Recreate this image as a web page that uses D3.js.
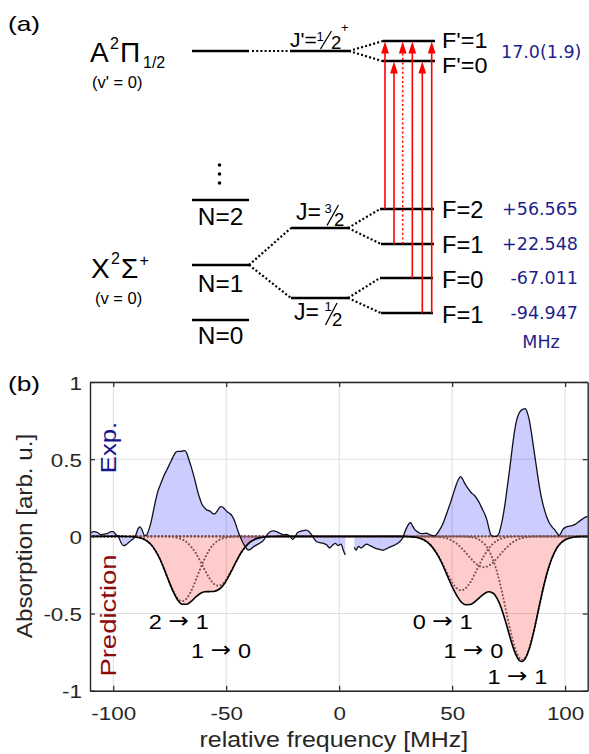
<!DOCTYPE html>
<html><head><meta charset="utf-8">
<script src="https://cdn.jsdelivr.net/npm/d3@7"></script>
<style>html,body{margin:0;padding:0;background:#fff;}svg{display:block;}</style>
</head><body>
<script>
// ================= DATA =================
// panel (b) axes
const xTicks = [-100, -50, 0, 50, 100];
const yTicks = [-1, -0.5, 0, 0.5, 1];
const xTickLabels = ["-100", "-50", "0", "50", "100"];
const yTickLabels = ["-1", "-0.5", "0", "0.5", "1"];

// experimental absorption [freq MHz, value]; null = gap in data
const expPoints = [[-110.3,0.02],[-108.5,0.03],[-107,0.025],[-105.5,0.01],[-104,0.015],[-102.5,0.02],[-101,0.03],[-100,0.03],[-98.8,0.01],[-97.8,0],[-96.6,-0.04],[-95.5,-0.06],[-94.4,-0.055],[-93.2,-0.04],[-92,-0.025],[-91,-0.015],[-90,0.01],[-89,0.05],[-88.2,0.062],[-87.2,0.04],[-86.2,0.005],[-85.2,0.01],[-84.2,0.045],[-83.3,0.09],[-82.3,0.16],[-81.3,0.23],[-80.3,0.29],[-79,0.34],[-77.7,0.39],[-76.3,0.43],[-75,0.47],[-73.7,0.51],[-72.6,0.54],[-71.5,0.55],[-70.3,0.55],[-69.3,0.553],[-68.3,0.556],[-67.5,0.54],[-66.6,0.5],[-65.7,0.46],[-64.7,0.41],[-63.8,0.36],[-62.8,0.3],[-61.8,0.25],[-60.8,0.21],[-59.6,0.185],[-58.5,0.17],[-57.3,0.165],[-56.2,0.15],[-55.2,0.145],[-54.2,0.16],[-53.3,0.18],[-52.5,0.193],[-51.6,0.19],[-50.6,0.175],[-49.6,0.16],[-48.6,0.15],[-47.5,0.135],[-46.6,0.11],[-45.6,0.07],[-44.7,0.03],[-43.9,0],[-43,-0.03],[-42.1,-0.055],[-41.2,-0.075],[-40.3,-0.088],[-39.3,-0.085],[-38.3,-0.072],[-37.1,-0.06],[-35.9,-0.05],[-34.7,-0.04],[-33.6,-0.028],[-32.6,-0.005],[-31.5,0.018],[-30.5,0.03],[-29.2,0.035],[-27.7,0.03],[-26.2,0.02],[-24.8,0.01],[-23.3,0.012],[-21.8,0],[-20.6,-0.02],[-19.6,-0.005],[-18.4,0.025],[-16.5,0.035],[-14.6,0.04],[-13.3,0.03],[-12.2,0.01],[-11.1,-0.015],[-10,-0.035],[-8.6,-0.04],[-7.1,-0.045],[-5.6,-0.055],[-4.2,-0.075],[-3.1,-0.06],[-1.8,-0.045],[-0.5,-0.06],[0.8,-0.05],[1.8,-0.09],[2.7,-0.12],[4.7,null],[6.7,-0.07],[7.5,-0.09],[8.5,-0.065],[9.8,-0.075],[11,-0.06],[12.2,-0.05],[13.6,-0.06],[15,-0.07],[16.5,-0.08],[18,-0.085],[19.5,-0.09],[21,-0.08],[22.4,-0.07],[24,-0.06],[25.4,-0.05],[26.8,-0.035],[28.1,-0.01],[29.1,0.03],[30,0.06],[30.8,0.08],[31.6,0.088],[32.4,0.07],[33.4,0.045],[34.6,0.03],[35.8,0.02],[37.2,0.018],[38.6,0.02],[40,0.012],[41.3,0.005],[42.3,0.003],[43.5,0.02],[44.6,0.045],[45.7,0.075],[46.9,0.12],[48.1,0.17],[49.4,0.225],[50.6,0.28],[51.7,0.33],[52.8,0.37],[53.7,0.387],[54.6,0.372],[55.5,0.345],[56.6,0.32],[57.8,0.295],[59,0.275],[60.2,0.26],[61.3,0.235],[62.3,0.21],[63.4,0.175],[64.4,0.145],[65.4,0.105],[66.3,0.05],[67.1,0.01],[68.2,0],[69.6,0],[70.6,0.015],[71.5,0.06],[72.5,0.13],[73.5,0.22],[74.5,0.33],[75.5,0.44],[76.5,0.56],[77.5,0.67],[78.5,0.75],[79.5,0.795],[80.5,0.815],[81.5,0.825],[82.4,0.827],[83.3,0.8],[84.2,0.75],[85.1,0.67],[86,0.58],[87,0.48],[88,0.38],[89,0.29],[90,0.22],[91,0.165],[92,0.12],[93.1,0.085],[94.3,0.06],[95.5,0.04],[96.5,0.02],[97.3,0.005],[98.1,0.02],[99,0.045],[100.2,0.058],[101.5,0.065],[103,0.07],[104.5,0.078],[106,0.095],[107.5,0.11],[109,0.125],[110,0.13]];

// predicted absorption (total)
const predPoints = [[-110.3,0],[-95.5,0],[-93.5,-0.001],[-91.5,-0.002],[-89.5,-0.006],[-87.5,-0.013],[-85.5,-0.026],[-83.5,-0.05],[-81.5,-0.089],[-79.5,-0.142],[-77.5,-0.211],[-75.5,-0.287],[-73.5,-0.357],[-71.5,-0.412],[-69.5,-0.44],[-67.5,-0.44],[-65.5,-0.421],[-63.5,-0.393],[-61.5,-0.37],[-59.5,-0.359],[-57.5,-0.358],[-55.5,-0.357],[-53.5,-0.346],[-51.5,-0.32],[-49.5,-0.275],[-47.5,-0.219],[-45.5,-0.161],[-43.5,-0.108],[-41.5,-0.068],[-39.5,-0.038],[-37.5,-0.02],[-35.5,-0.01],[-33.5,-0.004],[-31.5,-0.002],[-29.5,-0.001],[-27.5,0],[28,0],[30,-0.001],[32,-0.003],[34,-0.006],[36,-0.014],[38,-0.027],[40,-0.05],[42,-0.085],[44,-0.132],[46,-0.192],[48,-0.26],[50,-0.326],[52,-0.383],[54,-0.425],[56,-0.443],[58,-0.442],[60,-0.424],[62,-0.398],[64,-0.374],[66,-0.359],[68,-0.367],[70,-0.405],[72,-0.475],[74,-0.57],[76,-0.673],[78,-0.76],[80,-0.807],[81,-0.811],[82,-0.8],[84,-0.735],[86,-0.625],[88,-0.491],[90,-0.356],[92,-0.238],[94,-0.148],[96,-0.084],[98,-0.045],[100,-0.022],[102,-0.01],[104,-0.004],[106,-0.0015],[108,-0.0006],[110,0]];

// individual predicted transitions (dotted)
const comp21L = [[-110.3,0],[-93.5,-0.001],[-91.5,-0.002],[-89.5,-0.006],[-87.5,-0.013],[-85.5,-0.026],[-83.5,-0.05],[-81.5,-0.089],[-79.5,-0.142],[-77.5,-0.21],[-75.5,-0.285],[-73.5,-0.353],[-71.5,-0.402],[-69.5,-0.42],[-67.5,-0.402],[-65.5,-0.353],[-63.5,-0.285],[-61.5,-0.21],[-59.5,-0.142],[-57.5,-0.089],[-55.5,-0.05],[-53.5,-0.026],[-51.5,-0.013],[-49.5,-0.006],[-47.5,-0.002],[-45.5,-0.001],[110,0]];
const comp10L = [[-110.3,0],[-77.5,-0.001],[-75.5,-0.002],[-73.5,-0.004],[-71.5,-0.01],[-69.5,-0.02],[-67.5,-0.038],[-65.5,-0.068],[-63.5,-0.108],[-61.5,-0.16],[-59.5,-0.217],[-57.5,-0.269],[-55.5,-0.307],[-53.5,-0.32],[-51.5,-0.307],[-49.5,-0.269],[-47.5,-0.217],[-45.5,-0.16],[-43.5,-0.108],[-41.5,-0.068],[-39.5,-0.038],[-37.5,-0.02],[-35.5,-0.01],[-33.5,-0.004],[-31.5,-0.002],[-29.5,-0.001],[110,0]];
const comp01R = [[-110.3,0],[30,-0.001],[32,-0.003],[34,-0.006],[36,-0.014],[38,-0.027],[40,-0.049],[42,-0.083],[44,-0.129],[46,-0.184],[48,-0.244],[50,-0.298],[52,-0.336],[54,-0.35],[56,-0.336],[58,-0.298],[60,-0.244],[62,-0.184],[64,-0.129],[66,-0.083],[68,-0.049],[70,-0.027],[72,-0.014],[74,-0.006],[76,-0.003],[78,-0.001],[110,0]];
const comp10R = [[-110.3,0],[40,-0.001],[42,-0.002],[44,-0.004],[46,-0.008],[48,-0.015],[50,-0.028],[52,-0.047],[54,-0.074],[56,-0.105],[58,-0.14],[60,-0.17],[62,-0.192],[64,-0.2],[66,-0.192],[68,-0.17],[70,-0.14],[72,-0.105],[74,-0.074],[76,-0.047],[78,-0.028],[80,-0.015],[82,-0.008],[84,-0.004],[86,-0.002],[88,-0.001],[110,0]];
const comp11R = [[-110.3,0],[54,-0.001],[56,-0.002],[58,-0.004],[60,-0.01],[62,-0.022],[64,-0.045],[66,-0.084],[68,-0.148],[70,-0.238],[72,-0.356],[74,-0.49],[76,-0.623],[78,-0.731],[80,-0.792],[81,-0.8],[82,-0.792],[84,-0.731],[86,-0.623],[88,-0.49],[90,-0.356],[92,-0.238],[94,-0.148],[96,-0.084],[98,-0.045],[100,-0.022],[102,-0.01],[104,-0.004],[106,-0.002],[108,-0.001],[110,0]];
const components = [comp21L, comp10L, comp01R, comp10R, comp11R];

// transition annotations: [lower F, upper F'], position (freq, value)
const annoFrom = ["2", "1", "0", "1", "1"];
const annoTo   = ["1", "0", "1", "0", "1"];
const annoFreq = [-71, -52.3, 45.8, 59.4, 78.9];
const annoVal  = [-0.55, -0.737, -0.55, -0.737, -0.905];

// panel (a) level-diagram content
const groundFNames = ["F=2", "F=1", "F=0", "F=1"];
const groundHF = ["+56.565", "+22.548", "-67.011", "-94.947"];
const excitedFNames = ["F'=1", "F'=0"];
const excitedHF = "17.0(1.9)";
const rotLevels = ["N=2", "N=1", "N=0"];
// transitions: [lower level index in groundFNames, upper index in excitedFNames, dotted?]
const transitions = [[0,0,false],[1,1,false],[1,0,true],[2,0,false],[3,1,false],[3,0,false]];

// ================= DRAWING =================
const W = 589, H = 754;
const FF = "'Liberation Sans', Arial, Helvetica, sans-serif";
const FV = "'DejaVu Sans', Verdana, sans-serif";
const svg = d3.select("body").append("svg").attr("width", W).attr("height", H);
svg.append("rect").attr("width", W).attr("height", H).attr("fill", "#fff");

function stxt(g, str, x, y, o = {}) {
  let tr = `translate(${x},${y})`;
  if (o.rot) tr += ` rotate(${o.rot})`;
  if (o.sx) tr += ` scale(${o.sx},1)`;
  const t = g.append("text").attr("transform", tr)
    .attr("font-family", o.ff || FF).attr("font-size", o.size || 20)
    .attr("fill", o.fill || "#000").attr("text-anchor", o.anchor || "start");
  if (str !== null) t.text(str);
  return t;
}

// ---------- Panel (a) ----------
const gA = svg.append("g");
stxt(gA, "(a)", 8, 31, {size: 21, sx: 1.25});

// layout of the diagram (pixel positions)
const LV = {
  A: [192, 249, 51], Jp: [290, 349, 51],
  Fp: [[383, 435, 41], [382, 435, 61]],
  N: [[192, 249, 200], [192, 249, 265], [192, 249, 320]],
  J32: [291, 348, 228], J12: [291, 348, 298],
  F: [[380, 434, 209], [381, 434, 244], [380, 433, 278], [381, 433, 313]]
};
const allLines = [LV.A, LV.Jp, ...LV.Fp, ...LV.N, LV.J32, LV.J12, ...LV.F];
gA.selectAll("line.lev").data(allLines).join("line").attr("class", "lev")
  .attr("x1", d => d[0]).attr("x2", d => d[1]).attr("y1", d => d[2]).attr("y2", d => d[2])
  .attr("stroke", "#000").attr("stroke-width", 2.6);

const links = [
  [LV.A[1] + 3, LV.A[2], LV.Jp[0] - 1, LV.Jp[2]],
  [LV.Jp[1], LV.Jp[2], LV.Fp[0][0], LV.Fp[0][2]],
  [LV.Jp[1], LV.Jp[2], LV.Fp[1][0], LV.Fp[1][2]],
  [LV.N[1][1], LV.N[1][2], LV.J32[0], LV.J32[2]],
  [LV.N[1][1], LV.N[1][2], LV.J12[0], LV.J12[2]],
  [LV.J32[1], LV.J32[2], LV.F[0][0], LV.F[0][2]],
  [LV.J32[1], LV.J32[2], LV.F[1][0], LV.F[1][2]],
  [LV.J12[1], LV.J12[2], LV.F[2][0], LV.F[2][2]],
  [LV.J12[1], LV.J12[2], LV.F[3][0], LV.F[3][2]]
];
gA.selectAll("line.lnk").data(links).join("line").attr("class", "lnk")
  .attr("x1", d => d[0]).attr("y1", d => d[1]).attr("x2", d => d[2]).attr("y2", d => d[3])
  .attr("stroke", "#000").attr("stroke-width", 2.2).attr("stroke-dasharray", "2,2.2");

// vertical ellipsis above N=2
gA.selectAll("circle.ell").data([165, 174, 183]).join("circle").attr("class", "ell")
  .attr("cx", 219.5).attr("cy", d => d).attr("r", 1.8).attr("fill", "#000");

// state labels
let t = gA.append("text").attr("font-family", FF).attr("font-size", 28);
t.append("tspan").attr("x", 90).attr("y", 62).text("A");
t.append("tspan").attr("x", 110).attr("y", 49).attr("font-size", 16).text("2");
t.append("tspan").attr("x", 120).attr("y", 62).text("\u03A0");
t.append("tspan").attr("x", 143).attr("y", 68).attr("font-size", 16).text("1/2");
stxt(gA, "(v' = 0)", 92, 88, {size: 16.5});

t = gA.append("text").attr("font-family", FF).attr("font-size", 28);
t.append("tspan").attr("x", 91).attr("y", 278).text("X");
t.append("tspan").attr("x", 111).attr("y", 264).attr("font-size", 16).text("2");
t.append("tspan").attr("x", 121).attr("y", 278).text("\u03A3");
t.append("tspan").attr("x", 139.5).attr("y", 266).attr("font-size", 16).text("+");
stxt(gA, "(v = 0)", 95, 304, {size: 16.5});

// N labels
const nBase = [225, 291.5, 343.5];
rotLevels.forEach((s, i) => stxt(gA, s, 220.5, nBase[i], {size: 23, anchor: "middle", sx: 1.06}));

// J labels with built-up fractions
function jLabel(prefix, psize, px, py, num, nx, ny, den, dx, dy, slash, sup) {
  stxt(gA, prefix, px, py, {size: psize});
  stxt(gA, num, nx, ny, {size: 13});
  gA.append("line").attr("x1", slash[0]).attr("y1", slash[1]).attr("x2", slash[2]).attr("y2", slash[3])
    .attr("stroke", "#000").attr("stroke-width", 1.3);
  stxt(gA, den, dx, dy, {size: 18.5});
  if (sup) stxt(gA, sup, 341, 32, {size: 13});
}
jLabel("J'=", 21, 290, 47, "1", 316.5, 41, "2", 331, 49, [320.5, 49, 331.5, 31], "+");
jLabel("J=", 23, 296, 220, "3", 324.5, 213, "2", 334, 225.5, [327, 225.5, 338.5, 205], null);
jLabel("J=", 23, 294, 320, "1", 324.5, 310.5, "2", 332, 325.5, [325.5, 325, 337, 303], null);

// F labels
const fpBase = [47.5, 72.5];
excitedFNames.forEach((s, i) => stxt(gA, s, 442, fpBase[i], {size: 22.5, sx: 1.04}));
const fBase = [218, 252.5, 287.5, 322.5];
groundFNames.forEach((s, i) => stxt(gA, s, 442, fBase[i], {size: 23, sx: 1.03}));

// hyperfine values (blue)
const BLUE = "#1f1f8a";
stxt(gA, excitedHF, 501, 58, {size: 17.5, ff: FV, fill: BLUE});
const hfBase = [214.5, 249.5, 284, 318.5];
groundHF.forEach((s, i) => stxt(gA, s, 578, hfBase[i], {size: 17.5, ff: FV, fill: BLUE, anchor: "end"}));
stxt(gA, "MHz", 541, 348, {size: 17.5, ff: FV, fill: BLUE, anchor: "middle"});

// laser transitions (red arrows)
const arrowX = [385, 394, 402.7, 412.3, 422.3, 431.7];
transitions.forEach((tr, i) => {
  const xA = arrowX[i];
  const yLow = LV.F[tr[0]][2];
  const yTip = LV.Fp[tr[1]][2] + 0.5;
  gA.append("line").attr("x1", xA).attr("x2", xA).attr("y1", yLow).attr("y2", yTip + 10)
    .attr("stroke", "#ff0000").attr("stroke-width", 1.6)
    .attr("stroke-dasharray", tr[2] ? "2,2.6" : null);
  gA.append("path").attr("d", `M${xA},${yTip} L${xA - 3.9},${yTip + 12} L${xA + 3.9},${yTip + 12} Z`)
    .attr("fill", "#ff0000");
});

// ---------- Panel (b) ----------
const gB = svg.append("g");
const L = 90, R = 587.7, T = 382, B = 690.7;
const x = d3.scaleLinear().domain([-110.3, 110]).range([L, R]);
const y = d3.scaleLinear().domain([-1, 1]).range([B, T]);

stxt(gB, "(b)", 8, 391, {size: 21, sx: 1.25});

// grid
gB.append("g").selectAll("line").data(xTicks).join("line")
  .attr("x1", d => x(d)).attr("x2", d => x(d)).attr("y1", T).attr("y2", B)
  .attr("stroke", "#dedede").attr("stroke-width", 1);
gB.append("g").selectAll("line").data(yTicks).join("line")
  .attr("x1", L).attr("x2", R).attr("y1", d => y(d)).attr("y2", d => y(d))
  .attr("stroke", "#dedede").attr("stroke-width", 1);

gB.append("clipPath").attr("id", "clipB").append("rect")
  .attr("x", L).attr("y", T).attr("width", R - L).attr("height", B - T);
const plot = gB.append("g").attr("clip-path", "url(#clipB)");

const toObj = arr => arr.map(d => ({f: d[0], v: d[1]}));
const pred = toObj(predPoints), expD = toObj(expPoints);

const areaGen = d3.area().defined(d => d.v !== null).x(d => x(d.f)).y0(y(0)).y1(d => y(d.v)).curve(d3.curveMonotoneX);
const lineGen = d3.line().defined(d => d.v !== null).x(d => x(d.f)).y(d => y(d.v)).curve(d3.curveMonotoneX);

plot.append("path").datum(pred).attr("d", areaGen).attr("fill", "rgba(255,0,0,0.2)");
plot.append("path").datum(expD).attr("d", areaGen).attr("fill", "rgba(0,0,255,0.2)");

// components (dotted)
plot.selectAll("path.comp").data(components.map(toObj)).join("path").attr("class", "comp")
  .attr("d", lineGen).attr("fill", "none").attr("stroke", "#7d5252")
  .attr("stroke-width", 2.1).attr("stroke-linecap", "round").attr("stroke-dasharray", "0.01,3.6");

plot.append("path").datum(expD).attr("d", lineGen).attr("fill", "none")
  .attr("stroke", "#101020").attr("stroke-width", 1.3);
plot.append("path").datum(pred).attr("d", lineGen).attr("fill", "none")
  .attr("stroke", "#000").attr("stroke-width", 1.6);

// axes (inward ticks)
const AX = "#262626";
const axB = gB.append("g").attr("transform", `translate(0,${B})`)
  .call(d3.axisBottom(x).tickValues(xTicks).tickSizeInner(-5).tickSizeOuter(0).tickPadding(16)
    .tickFormat((d, i) => xTickLabels[i]));
const axT = gB.append("g").attr("transform", `translate(0,${T})`)
  .call(d3.axisTop(x).tickValues(xTicks).tickSizeInner(-5).tickSizeOuter(0).tickFormat(""));
const axL = gB.append("g").attr("transform", `translate(${L},0)`)
  .call(d3.axisLeft(y).tickValues(yTicks).tickSizeInner(-5).tickSizeOuter(0).tickPadding(8)
    .tickFormat((d, i) => yTickLabels[i]));
const axR = gB.append("g").attr("transform", `translate(${R},0)`)
  .call(d3.axisRight(y).tickValues(yTicks).tickSizeInner(-5).tickSizeOuter(0).tickFormat(""));
[axB, axT, axL, axR].forEach(a => {
  a.select(".domain").attr("stroke", AX).attr("stroke-width", 1.4);
  a.selectAll(".tick line").attr("stroke", AX).attr("stroke-width", 1.2);
});
axB.selectAll(".tick text").attr("font-family", FF).attr("font-size", 19).attr("fill", AX)
  .attr("transform", "scale(1.18,1)");
axL.selectAll(".tick text").attr("font-family", FF).attr("font-size", 19).attr("fill", AX)
  .attr("x", 0).attr("transform", "translate(-8,1) scale(1.18,1)");

// axis titles
stxt(gB, "relative frequency [MHz]", (L + R) / 2 - 5, 747, {size: 21.5, anchor: "middle", sx: 1.16, fill: AX});
stxt(gB, "Absorption [arb. u.]", 32, 536, {size: 22, anchor: "middle", rot: -90, sx: 1.1, fill: AX});

// inner labels
stxt(gB, "Exp.", 116, 447.5, {size: 22, anchor: "middle", rot: -90, sx: 1.17, fill: "#14148c"});
stxt(gB, "Prediction", 116, 615.5, {size: 22, anchor: "middle", rot: -90, sx: 1.25, fill: "#8c0a0a"});

// transition annotations
annoFrom.forEach((s, i) => {
  const tt = stxt(gB, null, x(annoFreq[i]), y(annoVal[i]) + 7.5, {size: 21, anchor: "middle", sx: 1.12});
  tt.append("tspan").text(s + " ");
  tt.append("tspan").attr("font-family", FV).attr("font-size", 22).attr("dy", -0.5).text("\u2192");
  tt.append("tspan").attr("dy", 0.5).text(" " + annoTo[i]);
});
</script>
</body></html>
